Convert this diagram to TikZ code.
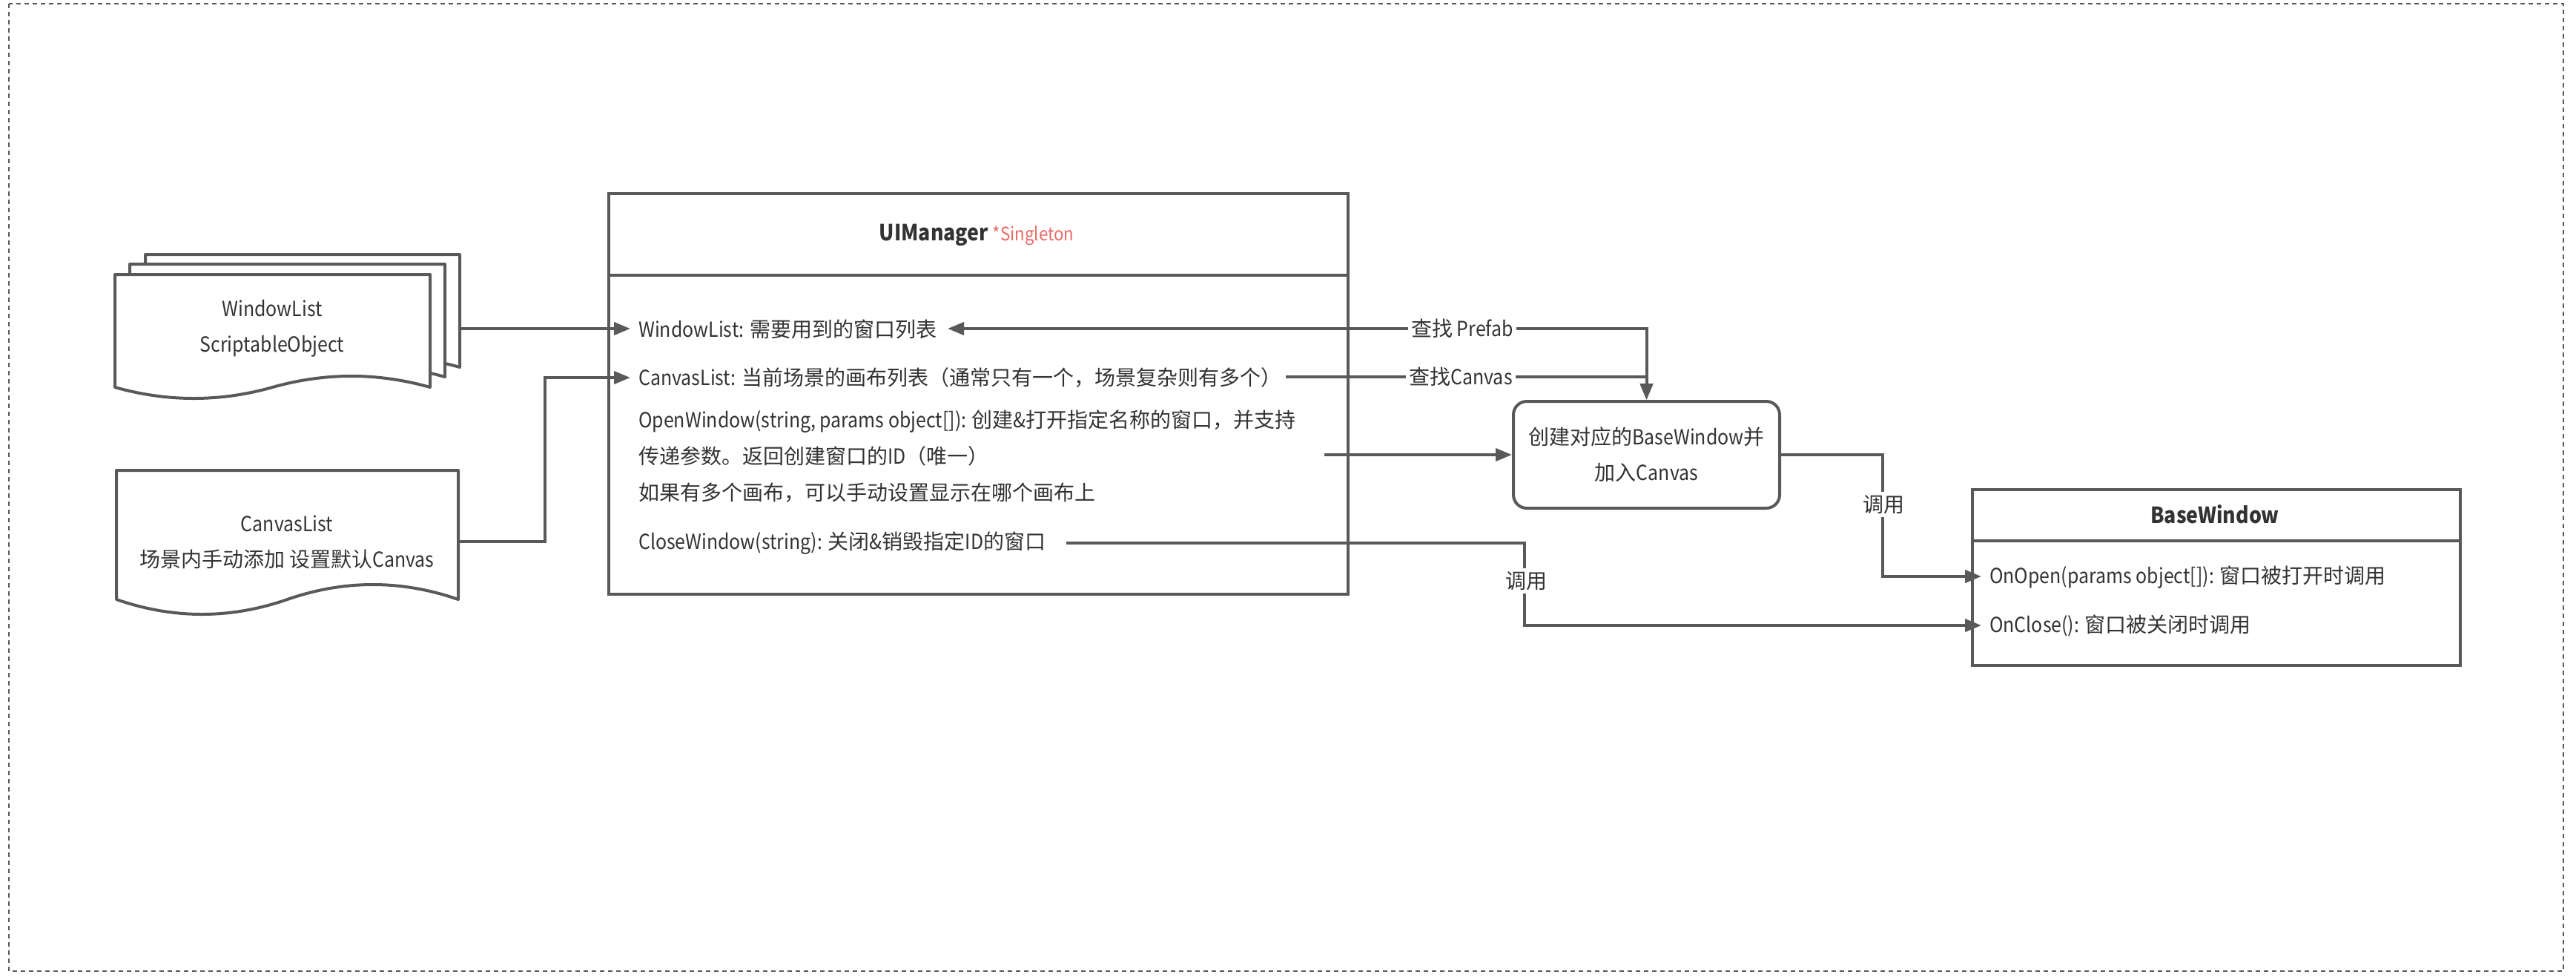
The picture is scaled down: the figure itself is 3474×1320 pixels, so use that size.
\documentclass[tikz,border=0pt]{standalone}
\usepackage{fontspec}
\setmainfont{Noto Sans CJK SC}[FakeStretch=0.89]
\newfontfamily\cjkfam{Noto Sans CJK SC}
\XeTeXinterchartokenstate=1
\newXeTeXintercharclass\CJKcls
\count255="3000
\loop \XeTeXcharclass\count255=\CJKcls \ifnum\count255<"303F \advance\count255 by 1 \repeat
\count255="4E00
\loop \XeTeXcharclass\count255=\CJKcls \ifnum\count255<"9FFF \advance\count255 by 1 \repeat
\count255="FF00
\loop \XeTeXcharclass\count255=\CJKcls \ifnum\count255<"FFEF \advance\count255 by 1 \repeat
\XeTeXinterchartoks 0 \CJKcls = {\cjkfam}
\XeTeXinterchartoks 4095 \CJKcls = {\cjkfam}
\XeTeXinterchartoks \CJKcls 0 = {\rmfamily}
\XeTeXinterchartoks \CJKcls 4095 = {\rmfamily}
\usetikzlibrary{arrows.meta}
\definecolor{ln}{HTML}{595959}
\definecolor{tx}{HTML}{333333}
\definecolor{sing}{HTML}{EA6B66}
\newcommand{\mydocshape}[5]{%
  \filldraw[docstyle] (#1,#2) -- (#3,#2) -- (#3,#4)
   .. controls ({#3-(#3-#1)/6},{#4-4*#5/3}) and ({(#1+#3)/2+(#3-#1)/6},{#4-4*#5/3}) .. ({(#1+#3)/2},#4)
   .. controls ({(#1+#3)/2-(#3-#1)/6},{#4+4*#5/3}) and ({#1+(#3-#1)/6},{#4+4*#5/3}) .. (#1,#4) -- cycle;}
\begin{document}
\begin{tikzpicture}[x=1pt,y=-1pt,
  box/.style={draw=ln, line width=4pt, fill=white, inner sep=0pt},
  docstyle/.style={draw=ln, line width=4pt, fill=white, line join=round},
  txt/.style={text=tx, font=\fontsize{28}{34}\selectfont, inner sep=0pt},
  conn/.style={draw=ln, line width=4pt},
  arr/.style={conn, -{Triangle[length=22pt,width=17pt]}},
  lbl/.style={txt, fill=white, inner sep=4pt},
]
\useasboundingbox (0,0) rectangle (3474,1320);
\draw[ln, line width=1.5pt, dash pattern=on 6pt off 5pt] (12,5) rectangle (3457,1309);

% document stacks
\mydocshape{196}{343}{620}{495}{15}
\mydocshape{175}{356}{600}{508}{15}
\mydocshape{155}{370}{580}{522}{15}
\node[txt, align=center, font=\fontsize{28}{48}\selectfont] (wldoc) at (367,443) {WindowList\\ScriptableObject};
\coordinate (wlout) at (620,443);

\mydocshape{157}{634}{618}{808}{20}
\node[txt, align=center, font=\fontsize{28}{48}\selectfont] (cldoc) at (387,731) {CanvasList\\场景内手动添加 设置默认Canvas};
\coordinate (clout) at (618,730);

% UIManager
\node[box, minimum width=997pt, minimum height=540pt, anchor=north west] (uim) at (819,259) {};
\coordinate (uimh) at (819,371);
\draw[conn] (uimh) -- (uimh -| uim.east);
\node[txt] (uimtitle) at (1317,317) {\fontsize{30}{34}\selectfont\textbf{UIManager} {\color{sing}\fontsize{25}{28}\selectfont *Singleton}};
\node[txt, anchor=west] (wlrow) at (861,444) {WindowList: 需要用到的窗口列表};
\node[txt, anchor=west] (clrow) at (861,509) {CanvasList: 当前场景的画布列表（通常只有一个，场景复杂则有多个）};
\node[txt, anchor=west, align=left, font=\fontsize{28}{49}\selectfont] (owrow) at (861,615) {OpenWindow(string, params object[]): 创建\&打开指定名称的窗口，并支持\\传递参数。返回创建窗口的ID（唯一）\\如果有多个画布，可以手动设置显示在哪个画布上};
\node[txt, anchor=west] (cwrow) at (861,732) {CloseWindow(string): 关闭\&销毁指定ID的窗口};
\coordinate (wlin) at (850,443);
\coordinate (clin) at (850,509);
\coordinate (wlend) at (1278,443);
\coordinate (clend) at (1734,508);
\coordinate (owout) at (1786,613);
\coordinate (cwout) at (1438,732);

% create box
\node[box, rounded corners=18pt, minimum width=359pt, minimum height=144pt, text=tx, align=center, font=\fontsize{28}{48}\selectfont] (create) at (2220.5,613) {创建对应的BaseWindow并\\加入Canvas};

% BaseWindow
\node[box, minimum width=658pt, minimum height=237pt, anchor=north west] (bw) at (2658,658) {};
\coordinate (bwh) at (2658,729);
\draw[conn] (bwh) -- (bwh -| bw.east);
\node[txt] (bwtitle) at (2987,693) {\fontsize{30}{34}\selectfont\textbf{BaseWindow}};
\node[txt, anchor=west] (onopentxt) at (2683,778) {OnOpen(params object[]): 窗口被打开时调用};
\node[txt, anchor=west] (onclosetxt) at (2683,843) {OnClose(): 窗口被关闭时调用};
\coordinate (onopen) at (2672,777);
\coordinate (onclose) at (2672,843);

% connectors
\draw[arr] (wlout) -- (wlin);
\draw[arr] (clout) -- ++(117,0) |- (clin);
\draw[conn, {Triangle[length=22pt,width=17pt]}-{Triangle[length=22pt,width=17pt]}] (wlend) -| (create.north);
\draw[arr] (clend) -| (create.north);
\draw[arr] (owout) -- (create.west |- owout);
\draw[arr] (create.east) -- ++(137,0) |- (onopen);
\draw[arr] (cwout) -- ++(618,0) |- (onclose);

% labels
\node[lbl] (lprefab) at (1972,443) {查找 Prefab};
\node[lbl] (lcanvas) at (1970,508) {查找Canvas};
\node[lbl] (lcall1) at (2540,680) {调用};
\node[lbl] (lcall2) at (2058,783) {调用};
\end{tikzpicture}
\end{document}
